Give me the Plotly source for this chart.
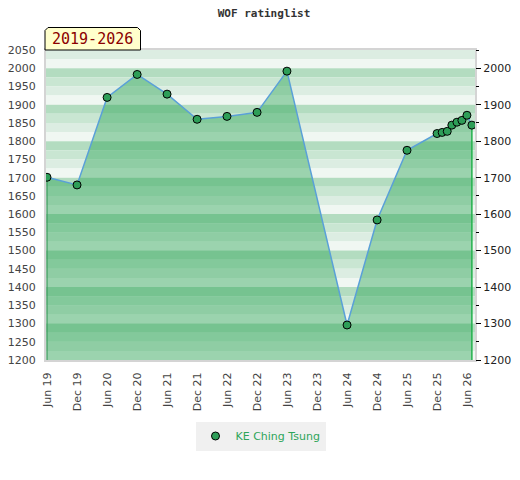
import plotly.graph_objects as go

dates = ["2019-06-01", "2019-12-01", "2020-06-01", "2020-12-01", "2021-06-01",
         "2021-12-01", "2022-06-01", "2022-12-01", "2023-06-01", "2024-06-01",
         "2024-12-01", "2025-06-01", "2025-12-01", "2026-01-01", "2026-02-01",
         "2026-03-01", "2026-04-01", "2026-05-01", "2026-06-01", "2026-07-01"]
ratings = [1701, 1680, 1920, 1983, 1929, 1860, 1868, 1879, 1992, 1296,
           1584, 1775, 1821, 1824, 1827, 1844, 1852, 1857, 1871, 1844]
player = "KE Ching Tsung"
title = "WOF ratinglist"
period = "2019-2026"

Y_MIN, Y_MAX = 1200, 2050
band_colors = ["#b3dcc0", "#c9e6d2", "#dcede2", "#f0f7f2"]

# page has an 8px body margin; figure is sized so it ends at the window edge
OFF = 8
W, H = 520 - OFF, 480 - OFF
# plot area in window pixels
PX0, PX1, PY0, PY1 = 46, 475, 50, 360
L, R, T, B = PX0 - OFF, 520 - PX1, PY0 - OFF, 480 - PY1
PW, PH = PX1 - PX0, PY1 - PY0

def px(x):
    return (x - PX0) / PW

def py(y):
    return (PY1 - y) / PH

fig = go.Figure()

# fill + line
fig.add_trace(go.Scatter(
    x=dates, y=ratings, mode="lines", fill="tozeroy",
    fillcolor="rgba(28,157,72,0.40)",
    line=dict(color="#5aa0d8", width=1.5),
    showlegend=False, hoverinfo="skip"))
# vertical edges of the area
fig.add_trace(go.Scatter(x=[dates[0], dates[0]], y=[ratings[0], Y_MIN], mode="lines",
                         line=dict(color="#3a9a5a", width=1.2), showlegend=False, hoverinfo="skip"))
fig.add_trace(go.Scatter(x=[dates[-1], dates[-1]], y=[ratings[-1], Y_MIN], mode="lines",
                         line=dict(color="#22b14c", width=1.5), showlegend=False, hoverinfo="skip"))
# markers
fig.add_trace(go.Scatter(
    x=dates, y=ratings, mode="markers", name=player,
    marker=dict(symbol="circle", size=8, color="#2e9e58", line=dict(color="#000", width=1)),
    showlegend=True))
# invisible trace for right axis
fig.add_trace(go.Scatter(x=[dates[0]], y=[ratings[0]], yaxis="y2", mode="markers",
                         marker=dict(opacity=0), showlegend=False, hoverinfo="skip"))

shapes = []
v = Y_MAX
i = 2
while v > Y_MIN:
    shapes.append(dict(type="rect", xref="paper", yref="y", x0=0, x1=1, y0=v - 25, y1=v,
                       fillcolor=band_colors[i % 4], line=dict(width=0), layer="below"))
    v -= 25
    i += 1

# period label box with clipped top corners
x0, x1, y0, y1, c = 45, 140.5, 27.5, 50, 3
path = (f"M {px(x0)},{py(y1)} L {px(x0)},{py(y0 + c)} L {px(x0 + c)},{py(y0)} "
        f"L {px(x1 - c)},{py(y0)} L {px(x1)},{py(y0 + c)} L {px(x1)},{py(y1)} Z")
shapes.append(dict(type="path", xref="paper", yref="paper", path=path,
                   fillcolor="#ffffcc", line=dict(color="#000", width=1), layer="above"))

fig.update_layout(
    width=W, height=H,
    margin=dict(l=L, r=R, t=T, b=B, autoexpand=False),
    paper_bgcolor="white", plot_bgcolor="white",
    shapes=shapes,
    title=dict(text=f"<b>{title}</b>", x=0.5, xanchor="center", y=1 - (13 - OFF) / H, yanchor="middle",
               font=dict(family="DejaVu Sans Mono", size=11, color="#333")),
    annotations=[dict(text=period, xref="paper", yref="paper", x=px(92.5), y=py(39.5),
                      xanchor="center", yanchor="middle", showarrow=False,
                      font=dict(family="DejaVu Sans Mono", size=15, color="#8b0000"))],
    xaxis=dict(type="date", range=["2019-05-26", "2026-07-20"], tick0="2019-06-01", dtick="M6",
               tickformat="%b %y", tickangle=-90, showgrid=False, zeroline=False, automargin=False,
               showline=True, linecolor="#d4d4d4", linewidth=2, mirror=True,
               ticks="outside", ticklen=6, tickcolor="rgba(0,0,0,0)",
               tickfont=dict(family="DejaVu Sans", size=11, color="#444")),
    yaxis=dict(range=[Y_MIN, Y_MAX], tick0=1200, dtick=50, showgrid=False, zeroline=False,
               automargin=False,
               showline=True, linecolor="#d4d4d4", linewidth=2, mirror=True,
               ticks="outside", ticklen=6, tickcolor="rgba(0,0,0,0)",
               tickfont=dict(family="DejaVu Sans", size=11, color="#444")),
    yaxis2=dict(range=[Y_MIN, Y_MAX], overlaying="y", side="right", tick0=1200, dtick=100,
                automargin=False,
                showgrid=False, zeroline=False, ticks="outside", ticklen=5, tickcolor="#000",
                minor=dict(dtick=50, tick0=1200, ticks="outside", ticklen=3, tickcolor="#000"),
                tickfont=dict(family="DejaVu Sans", size=11, color="#222")),
    legend=dict(orientation="h", x=0.5, xanchor="center", y=py(436), yanchor="middle",
                bgcolor="#f0f0f0", font=dict(family="DejaVu Sans", size=11, color="#2ea55a")),
)

fig.write_html("out.html")
